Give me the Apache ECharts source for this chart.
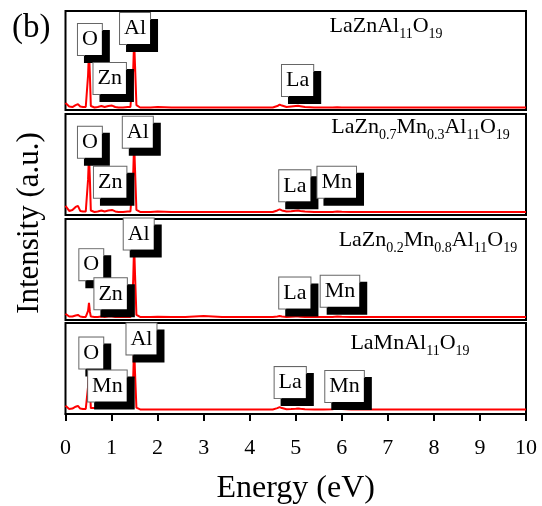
<!DOCTYPE html>
<html>
<head>
<meta charset="utf-8">
<script src="https://cdn.jsdelivr.net/npm/echarts@6/dist/echarts.min.js"></script>
<style>html,body{margin:0;padding:0;background:#fff;}#c{width:542px;height:506px;}</style>
</head>
<body>
<div id="c"></div>
<script>
// ---- data ----
const energy = [0, 0.08, 0.15, 0.22, 0.27, 0.32, 0.38, 0.44, 0.47, 0.49, 0.51, 0.53, 0.55, 0.58, 0.63, 0.7, 0.78, 0.85, 0.93, 1.01,
  1.08, 1.15, 1.25, 1.35, 1.41, 1.44, 1.47, 1.49, 1.51, 1.54, 1.57, 1.62, 1.7, 1.85, 2.0, 2.3, 2.6, 3.0, 3.4, 3.8,
  4.2, 4.5, 4.6, 4.65, 4.7, 4.8, 4.9, 5.0, 5.05, 5.1, 5.2, 5.4, 5.6, 5.8, 5.9, 6.0, 6.2, 6.6, 7.0, 7.5,
  8.0, 8.6, 9.0, 9.5, 10];
const intensityLaZn = [7, 3.5, 3, 5, 6, 3.5, 3, 3, 4, 35, 60, 35, 4, 3, 2.5, 3, 4, 3, 4, 4.5,
  3, 2.5, 2.5, 3, 3, 5, 40, 70, 45, 5, 3, 2.5, 2.5, 2.5, 3, 2.5, 2.5, 2.5, 2.5, 2.5,
  2.5, 2.5, 4, 5.5, 4.5, 3, 3.5, 4, 4.2, 3.8, 3, 2.5, 2.5, 2.5, 2.7, 2.5, 2.5, 2.5, 2.5, 2.5,
  2.5, 2.5, 2.5, 2.5, 2.5];
const intensityZn07Mn03 = [9, 4, 5, 8, 9, 4, 3.5, 3.5, 4.5, 35, 60, 35, 4.5, 3.5, 3, 3.5, 4.5, 3.5, 4.5, 5,
  3.5, 3, 3, 3.5, 3.5, 5, 40, 72, 45, 5, 3.5, 3, 3, 3, 3.5, 3, 3, 3, 3, 3,
  3, 3, 4.5, 5.5, 4.5, 3.5, 3.8, 4.3, 4.5, 4, 3.5, 3, 3, 3, 3.5, 3.2, 3, 3, 3, 3,
  3, 3, 3, 3, 3];
const intensityZn02Mn08 = [6, 3.5, 3.5, 4.5, 5, 3.5, 3, 3, 3.5, 9, 17, 8, 3.5, 3, 3, 3, 3.5, 3, 3.5, 3.5,
  3, 3, 3, 3, 3, 5, 40, 75, 45, 5, 3.5, 3, 3, 3, 3.2, 3, 3, 4, 3, 3,
  3, 3, 3.5, 4, 3.5, 3, 3.2, 3.5, 3.5, 3.3, 3, 3, 3, 3, 3.5, 3.2, 3, 3, 3, 3,
  3, 3, 3, 3, 3];
const intensityLaMn = [9, 5.5, 6, 8, 9, 6, 5.5, 5.5, 6, 30, 50, 30, 6.5, 6.5, 6.5, 6.5, 7, 6.5, 6.5, 6.5,
  6.5, 6.5, 6.5, 6.5, 6.5, 8, 40, 75, 45, 7, 5.5, 5, 5, 5, 5, 5, 5, 5, 5, 5,
  5, 5, 6.5, 7.6, 6.5, 5.3, 5.5, 5.8, 6, 5.7, 5.2, 5, 5, 5.3, 6.3, 5.5, 5, 5, 5, 5,
  5, 5, 5, 5, 5];
const panelSeries = [intensityLaZn, intensityZn07Mn03, intensityZn02Mn08, intensityLaMn];

// formulas: [element, subscript] pairs
const formulaParts = [
  [['La', ''], ['Zn', ''], ['Al', '11'], ['O', '19']],
  [['La', ''], ['Zn', '0.7'], ['Mn', '0.3'], ['Al', '11'], ['O', '19']],
  [['La', ''], ['Zn', '0.2'], ['Mn', '0.8'], ['Al', '11'], ['O', '19']],
  [['La', ''], ['Mn', ''], ['Al', '11'], ['O', '19']]
];
const xTicks = [0, 1, 2, 3, 4, 5, 6, 7, 8, 9, 10];

// ---- annotation anchors (energy, intensity level) ----
const formulaAnchors = [[6.96, 84.3], [7.71, 86.8], [7.87, 78.6], [7.48, 77.8]];
const peakTags = [
  [['O', 0.53, 71.2], ['Al', 1.51, 82.3], ['Zn', 0.96, 31.8], ['La', 5.04, 29.8]],
  [['O', 0.53, 72.0], ['Al', 1.57, 82.0], ['Zn', 0.97, 32.4], ['La', 4.98, 28.9], ['Mn', 5.89, 32.5]],
  [['O', 0.56, 54.8], ['Al', 1.59, 85.1], ['Zn', 0.98, 26.0], ['La', 4.98, 26.7], ['Mn', 5.96, 28.4]],
  [['O', 0.56, 67.0], ['Al', 1.65, 82.5], ['Mn', 0.91, 30.7], ['La', 4.88, 34.5], ['Mn', 6.06, 30.2]]
];

// ---- layout ----
const FONT = 'Liberation Serif, Times New Roman, serif';
const panelBoxes = [[11, 99], [114, 101], [219, 101], [323, 102]];

const grids = [], xAxes = [], yAxes = [], series = [];
panelBoxes.forEach((b, i) => {
  const last = i === panelBoxes.length - 1;
  grids.push({left: 65.5, width: 460.5, top: b[0], height: b[1], show: true,
    borderColor: '#000', borderWidth: 2, backgroundColor: '#fff', containLabel: false});
  xAxes.push({type: 'value', gridIndex: i, min: 0, max: 10, interval: 1,
    axisLine: {show: last, lineStyle: {color: '#000', width: 2}},
    axisTick: {show: last, inside: false, length: 7, lineStyle: {color: '#000', width: 2}},
    axisLabel: {show: last, color: '#000', fontFamily: FONT, fontSize: 22, margin: 23,
      formatter: v => xTicks.indexOf(v) >= 0 ? String(v) : ''},
    splitLine: {show: false},
    name: last ? 'Energy (eV)' : '', nameLocation: 'middle', nameGap: 59,
    nameTextStyle: {color: '#000', fontFamily: FONT, fontSize: 32}
  });
  yAxes.push({type: 'value', gridIndex: i, min: 0, max: 100, show: false});
  series.push({type: 'line', xAxisIndex: i, yAxisIndex: i, z: 2,
    data: energy.map((e, k) => [e, panelSeries[i][k]]),
    showSymbol: false, symbol: 'none', smooth: false,
    lineStyle: {color: '#ff0000', width: 2}, silent: true});
  // formula text
  let rich = '';
  formulaParts[i].forEach(p => { rich += p[0] + (p[1] ? '{s|' + p[1] + '}' : ''); });
  series.push({type: 'scatter', xAxisIndex: i, yAxisIndex: i, z: 10, symbolSize: 1,
    itemStyle: {color: 'rgba(0,0,0,0)', opacity: 1}, silent: true,
    data: [[formulaAnchors[i][0], formulaAnchors[i][1], rich]],
    label: {show: true, position: 'inside', formatter: p => p.data[2], opacity: 1,
      color: '#000', fontFamily: FONT, fontSize: 22, lineHeight: 22,
      rich: {s: {fontFamily: FONT, fontSize: 14, color: '#000', verticalAlign: 'top', padding: [12, 0, 0, 0]}}}
  });
  // element tags
  series.push({type: 'scatter', xAxisIndex: i, yAxisIndex: i, z: 10, symbolSize: 1,
    itemStyle: {color: 'rgba(0,0,0,0)', opacity: 1}, silent: true,
    data: peakTags[i].map(t => [t[1], t[2], t[0]]),
    label: {show: true, position: 'inside', formatter: p => p.data[2], opacity: 1,
      color: '#000', fontFamily: FONT, fontSize: 22, lineHeight: 24,
      backgroundColor: '#fff', borderColor: '#666', borderWidth: 1,
      padding: [4, 4, 3, 4],
      shadowColor: '#000', shadowBlur: 0, shadowOffsetX: 7, shadowOffsetY: 7}
  });
});

const chart = echarts.init(document.getElementById('c'), null, {renderer: 'canvas'});
chart.setOption({
  animation: false,
  backgroundColor: '#fff',
  grid: grids, xAxis: xAxes, yAxis: yAxes, series: series,
  graphic: [
    {type: 'text', left: 12, top: 12, style: {text: '(b)', fontFamily: FONT, fontSize: 33, fill: '#000'}},
    {type: 'text', x: 30, y: 223, rotation: Math.PI / 2,
      style: {text: 'Intensity (a.u.)', fontFamily: FONT, fontSize: 31, fill: '#000', align: 'center', verticalAlign: 'middle'}}
  ]
});
</script>
</body>
</html>
